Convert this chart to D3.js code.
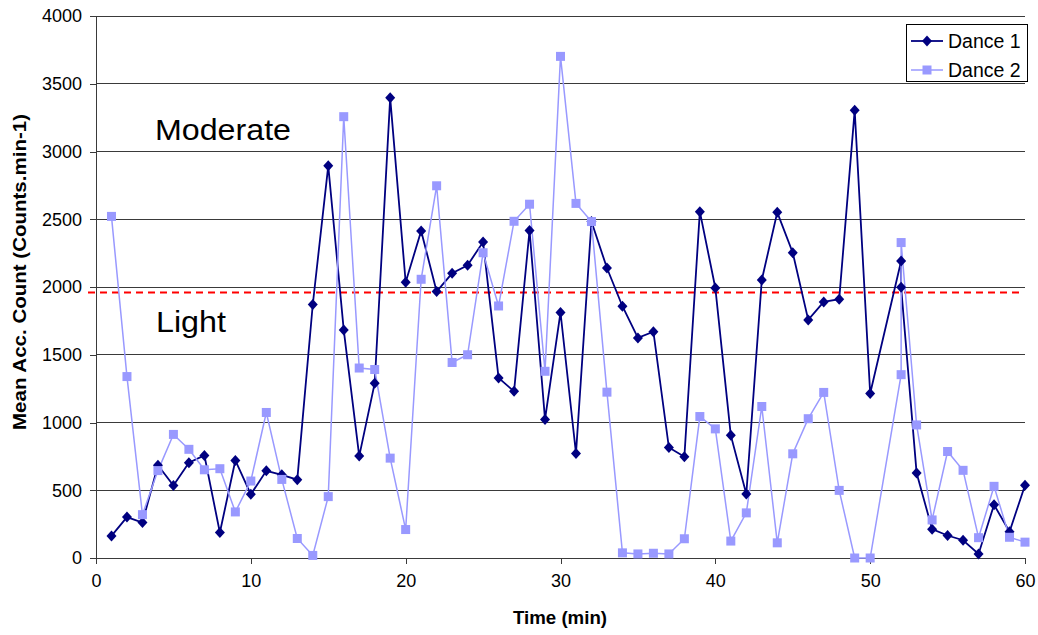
<!DOCTYPE html>
<html><head><meta charset="utf-8">
<script src="https://cdn.jsdelivr.net/npm/d3@7"></script>
<style>
body{margin:0;background:#fff;}
svg{display:block;font-family:Arial,"Liberation Sans",sans-serif;}
</style>
</head><body>
<svg id="chart" width="1038" height="635"></svg>
<script>
// ---- data ----
const time = [1,2,3,4,5,6,7,8,9,10,11,12,13,14,15,16,17,18,19,20,
  21,22,23,24,25,26,27,28,29,30,31,32,33,34,35,36,37,38,39,40,
  41,42,43,44,45,46,47,48,49,50,52,52,53,54,55,56,57,58,59,60];
const dance1 = [163,302,262,685,535,703,757,188,720,470,
  643,614,578,1871,2894,1683,752,1290,3396,2035,
  2414,1967,2101,2161,2332,1329,1230,2417,1023,1812,
  772,2483,2140,1858,1624,1670,815,747,2556,1993,
  905,472,2052,2551,2253,1757,1890,1910,3304,1214,
  2192,1998,627,213,166,131,30,393,194,537];
const dance2 = [2521,1339,320,645,912,802,651,659,340,568,
  1074,580,144,19,453,3257,1402,1391,737,210,
  2057,2747,1443,1500,2253,1860,2485,2611,1378,3702,
  2617,2483,1224,38,30,35,30,142,1044,953,
  125,333,1118,112,769,1028,1222,499,0,0,
  1353,2328,982,281,786,647,150,529,153,117];
const seriesNames = ["Dance 1","Dance 2"];
const yTicks = [0,500,1000,1500,2000,2500,3000,3500,4000];
const xTicks = [0,10,20,30,40,50,60];
const threshold = 1960;
const zoneLabels = ["Moderate","Light"];
const xTitle = "Time (min)";
const yTitle = "Mean Acc. Count (Counts.min-1)";

// ---- layout ----
const svg = d3.select("#chart");
const L = 96, R = 1025, T = 16, B = 558;
const x = d3.scaleLinear().domain([0,60]).range([L,R]);
const y = d3.scaleLinear().domain([0,4000]).range([B,T]);
const c1 = "#000080", c2 = "#9999FF";

// gridlines
svg.append("g").selectAll("line").data(yTicks.filter(d=>d>0)).join("line")
  .attr("x1",L).attr("x2",R).attr("y1",d=>y(d)).attr("y2",d=>y(d))
  .attr("stroke","#3a3a3a").attr("stroke-width",1).attr("shape-rendering","crispEdges");

// axes
const yAxis = d3.axisLeft(y).tickValues(yTicks).tickSize(6).tickPadding(8).tickFormat(d3.format("d"));
const gy = svg.append("g").attr("transform",`translate(${L},0)`).call(yAxis);
const xAxis = d3.axisBottom(x).tickValues(xTicks).tickSize(6).tickPadding(10).tickFormat(d3.format("d"));
const gx = svg.append("g").attr("transform",`translate(0,${B})`).call(xAxis);
[gx,gy].forEach(g=>{
  g.select(".domain").attr("stroke","#3a3a3a").attr("shape-rendering","crispEdges");
  g.selectAll(".tick line").attr("stroke","#3a3a3a").attr("shape-rendering","crispEdges");
  g.selectAll(".tick text").attr("fill","#000").style("font-size","18px").style("font-family","Arial,'Liberation Sans',sans-serif");
});
gx.select(".domain").attr("d",`M${L},0H${R}`);
gy.select(".domain").attr("d",`M0,${B}V${T}`);

// threshold
svg.append("line").attr("x1",88).attr("x2",1022)
  .attr("y1",y(threshold)).attr("y2",y(threshold))
  .attr("stroke","#ff0000").attr("stroke-width",2).attr("stroke-dasharray","7,5");

// zone labels
svg.append("text").attr("x",155).attr("y",140).text(zoneLabels[0])
  .style("font-size","30px").attr("fill","#000")
  .attr("textLength",136).attr("lengthAdjust","spacingAndGlyphs");
svg.append("text").attr("x",156).attr("y",332).text(zoneLabels[1])
  .style("font-size","30px").attr("fill","#000")
  .attr("textLength",70).attr("lengthAdjust","spacingAndGlyphs");

// series
const s1 = time.map((t,i)=>({t,v:dance1[i]}));
const s2 = time.map((t,i)=>({t,v:dance2[i]}));
const line = d3.line().x(d=>x(d.t)).y(d=>y(d.v));
svg.append("path").datum(s1).attr("d",line).attr("fill","none").attr("stroke",c1).attr("stroke-width",1.8);
svg.append("path").datum(s2).attr("d",line).attr("fill","none").attr("stroke",c2).attr("stroke-width",1.5);

const diamond = (cx,cy)=>`M${cx},${cy-5.5}L${cx+5},${cy}L${cx},${cy+5.5}L${cx-5},${cy}Z`;
svg.append("g").selectAll("path").data(s1).join("path")
  .attr("d",d=>diamond(x(d.t),y(d.v))).attr("fill",c1);
svg.append("g").selectAll("rect").data(s2).join("rect")
  .attr("x",d=>x(d.t)-4.5).attr("y",d=>y(d.v)-4.5).attr("width",9).attr("height",9).attr("fill",c2);

// legend
const lg = svg.append("g");
lg.append("rect").attr("x",906.5).attr("y",24.5).attr("width",121).attr("height",57)
  .attr("fill","#fff").attr("stroke","#000").attr("stroke-width",1);
[[c1,41,"d"],[c2,70,"s"]].forEach(([col,cy,m],i)=>{
  lg.append("line").attr("x1",911).attr("x2",943).attr("y1",cy).attr("y2",cy)
    .attr("stroke",col).attr("stroke-width",i===0?1.8:1.5);
  if(m==="d") lg.append("path").attr("d",diamond(927,cy)).attr("fill",col);
  else lg.append("rect").attr("x",922.5).attr("y",cy-4.5).attr("width",9).attr("height",9).attr("fill",col);
  lg.append("text").attr("x",948).attr("y",cy+6.5).text(seriesNames[i]).style("font-size","19.5px");
});

// axis titles
svg.append("text").attr("x",560).attr("y",624).attr("text-anchor","middle")
  .style("font-size","19px").style("font-weight","bold").text(xTitle)
  .attr("textLength",94).attr("lengthAdjust","spacingAndGlyphs");
svg.append("text").attr("transform","translate(26,272) rotate(-90)").attr("text-anchor","middle")
  .style("font-size","18px").style("font-weight","bold").text(yTitle)
  .attr("textLength",316).attr("lengthAdjust","spacingAndGlyphs");
</script>
</body></html>
